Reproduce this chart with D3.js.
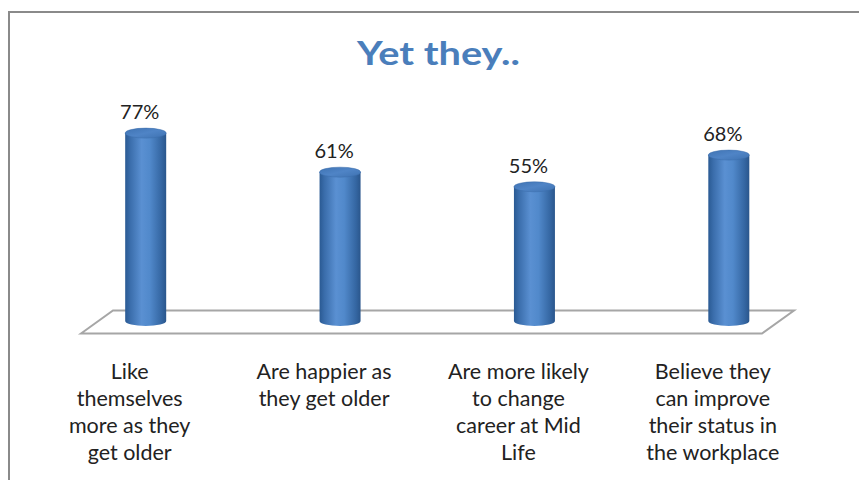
<!DOCTYPE html>
<html><head><meta charset="utf-8">
<script src="https://cdn.jsdelivr.net/npm/d3@7"></script>
<style>body{margin:0;background:#fff;} svg{display:block;}</style>
</head><body>
<script>
const categories = [
  "Like themselves more as they get older",
  "Are happier as they get older",
  "Are more likely to change career at Mid Life",
  "Believe they can improve their status in the workplace"
];
const labelLines = [
  ["Like", "themselves", "more as they", "get older"],
  ["Are happier as", "they get older"],
  ["Are more likely", "to change", "career at Mid", "Life"],
  ["Believe they", "can improve", "their status in", "the workplace"]
];
const values = [77, 61, 55, 68];
const valueLabels = ["77%", "61%", "55%", "68%"];
const title = "Yet they..";

const W = 859, H = 480;
const svg = d3.select("body").append("svg").attr("width", W).attr("height", H);
const defs = svg.append("defs");

const bodyGrad = defs.append("linearGradient").attr("id", "cylBody").attr("x1", "0").attr("x2", "1").attr("y1", "0").attr("y2", "0");
[["0%", "#2a5a93"], ["12%", "#3a6dab"], ["40%", "#5a90d2"], ["60%", "#5189cb"], ["88%", "#3567a3"], ["100%", "#2a568c"]]
  .forEach(([o, c]) => bodyGrad.append("stop").attr("offset", o).attr("stop-color", c));
const topGrad = defs.append("linearGradient").attr("id", "cylTop").attr("x1", "0").attr("x2", "1").attr("y1", "0").attr("y2", "1");
[["0%", "#3f73b3"], ["50%", "#4f84c6"], ["100%", "#3e72b1"]]
  .forEach(([o, c]) => topGrad.append("stop").attr("offset", o).attr("stop-color", c));

// frame border
svg.append("path").attr("d", "M9,480 L9,12 L859,12").attr("fill", "none").attr("stroke", "#8a8a8a").attr("stroke-width", 2);

// title
svg.append("text").attr("x", 438.5).attr("y", 65).attr("text-anchor", "middle")
  .attr("font-family", "Lato, 'Open Sans', sans-serif").attr("font-weight", "bold").attr("font-size", 33)
  .attr("textLength", 163).attr("lengthAdjust", "spacingAndGlyphs")
  .attr("fill", "#4a7ebb").text(title);

// scales
const x = d3.scaleBand().domain(categories).range([48.5, 826]).padding(0);
const y = d3.scaleLinear().domain([0, 100]).range([321, 77]);
const cylW = 41, ry = 5;

// floor (3D base plane)
const depthX = 32, depthY = 23;
const floorFrontY = y(0) + 12.5;
const floorLeft = 81, floorRight = 762;
svg.append("path")
  .attr("d", `M${floorLeft},${floorFrontY} L${floorLeft + depthX},${floorFrontY - depthY} L${floorRight + depthX},${floorFrontY - depthY} L${floorRight},${floorFrontY} Z`)
  .attr("fill", "#fff").attr("stroke", "#a6a6a6").attr("stroke-width", 2);

// cylinders
const g = svg.append("g");
categories.forEach((c, i) => {
  const cx = x(c) + x.bandwidth() / 2;
  const x0 = cx - cylW / 2, x1 = cx + cylW / 2;
  const yb = y(0), yt = y(values[i]);
  g.append("path")
    .attr("d", `M${x0},${yt} L${x0},${yb} A${cylW / 2},${ry} 0 0 0 ${x1},${yb} L${x1},${yt} Z`)
    .attr("fill", "url(#cylBody)");
  g.append("ellipse").attr("cx", cx).attr("cy", yt).attr("rx", cylW / 2).attr("ry", ry)
    .attr("fill", "url(#cylTop)").attr("stroke", "#3b6dab").attr("stroke-width", 0.5);
  svg.append("text").attr("x", cx - 6).attr("y", yt - 14).attr("text-anchor", "middle")
    .attr("font-family", "Lato, 'Open Sans', sans-serif").attr("font-size", 20).attr("fill", "#222")
    .text(valueLabels[i]);
  const t = svg.append("text").attr("text-anchor", "middle")
    .attr("font-family", "Lato, 'Open Sans', sans-serif").attr("font-size", 21.5).attr("fill", "#222");
  labelLines[i].forEach((ln, j) => {
    t.append("tspan").attr("x", cx - 16).attr("y", 379 + j * 27).text(ln);
  });
});
</script>
</body></html>
